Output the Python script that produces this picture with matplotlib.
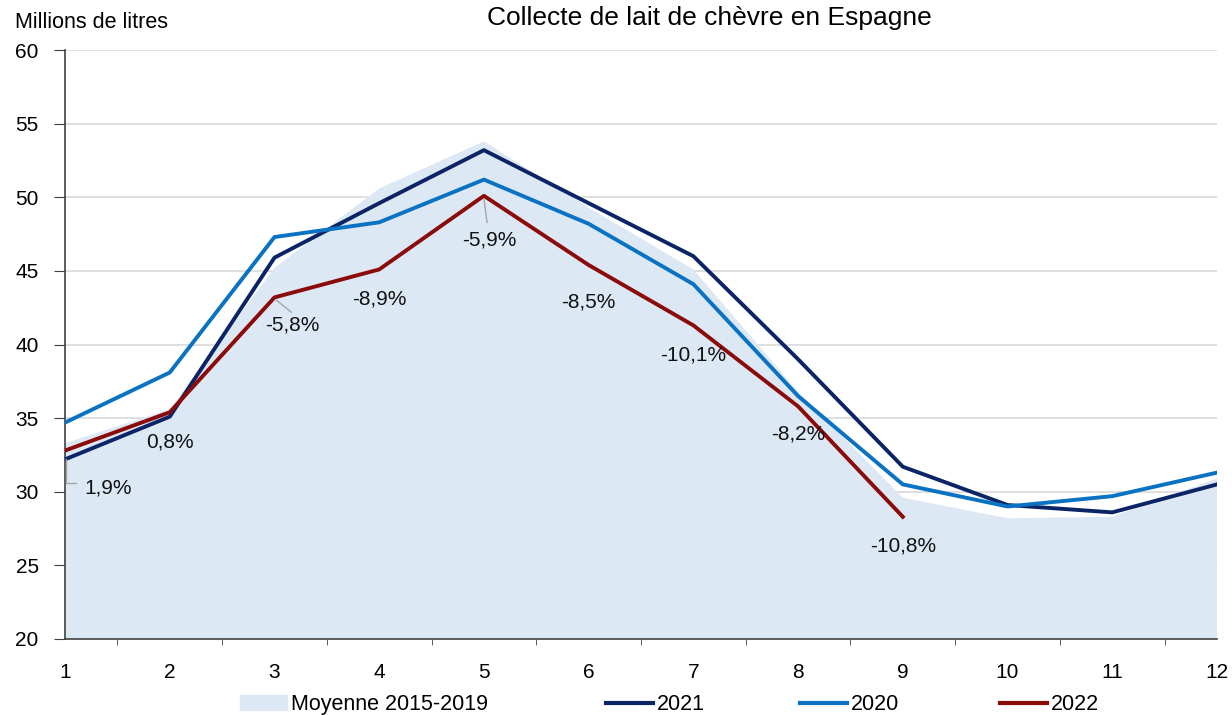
import numpy as np
import matplotlib
matplotlib.use("Agg")
import matplotlib.pyplot as plt
from matplotlib.patches import Patch
from matplotlib.lines import Line2D

plt.rcParams['font.family'] = ['Liberation Sans', 'DejaVu Sans']

# Données (millions de litres)
mois = np.arange(1, 13)
moyenne = [33.3, 35.6, 45.2, 50.6, 53.8, 49.3, 45.1, 36.8, 29.6, 28.2, 28.3, 30.9]
v2021 = [32.2, 35.1, 45.9, 49.6, 53.2, 49.6, 46.0, 39.0, 31.7, 29.1, 28.6, 30.5]
v2020 = [34.7, 38.1, 47.3, 48.3, 51.2, 48.2, 44.1, 36.5, 30.5, 29.0, 29.7, 31.3]
v2022 = [32.8, 35.4, 43.2, 45.1, 50.1, 45.4, 41.3, 35.8, 28.3]
etiquettes = ["1,9%", "0,8%", "-5,8%", "-8,9%", "-5,9%", "-8,5%", "-10,1%", "-8,2%", "-10,8%"]

fig = plt.figure(figsize=(12.32, 7.15), dpi=100)
ax = fig.add_axes([0.0528, 0.1063, 0.935, 0.8237])

ax.fill_between(mois, 0, moyenne, color='#DDE8F5', lw=0, zorder=1)
ax.plot(mois, v2021, color='#0B2466', lw=2.8, zorder=3)
ax.plot(mois, v2020, color='#0A72C2', lw=2.8, zorder=3)
ax.plot(mois[:len(v2022)], v2022, color='#8B0A0A', lw=2.8, zorder=4)

# étiquettes (position relative au point, en unités de données)
decal = [(0.41, -2.55), (0.0, -2.0), (0.17, -1.9), (0.0, -2.0), (0.05, -3.0),
         (0.0, -2.5), (0.0, -2.0), (0.0, -1.9), (0.0, -2.0)]
for i, (txt, (dx, dy)) in enumerate(zip(etiquettes, decal)):
    ax.text(mois[i] + dx, v2022[i] + dy, txt, ha='center', va='center',
            fontsize=15, color='#111111', zorder=6)

# lignes de rappel
ax.plot([1.005, 1.005, 1.105], [32.2, 30.6, 30.6], color='#A6A6A6', lw=1, zorder=5)
ax.plot([3.02, 3.16], [43.0, 42.2], color='#A6A6A6', lw=1, zorder=5)
ax.plot([5.0, 5.03], [49.9, 48.3], color='#A6A6A6', lw=1, zorder=5)

ax.set_xlim(1, 12)
ax.set_ylim(20, 60)
ax.set_yticks(np.arange(20, 61, 5))
ax.set_xticks(mois)
ax.set_xticks(np.arange(1.5, 12, 1), minor=True)
ax.yaxis.grid(True, color='#D9D9D9', lw=1.2)
ax.set_axisbelow(True)
for s in ['top', 'right']:
    ax.spines[s].set_visible(False)
for s in ['left', 'bottom']:
    ax.spines[s].set_color('#404040')
    ax.spines[s].set_linewidth(1.2)
ax.tick_params(axis='x', which='major', length=0, pad=17, labelsize=15)
ax.tick_params(axis='x', which='minor', length=4.5, color='#404040')
ax.tick_params(axis='y', length=8, color='#404040', pad=11, labelsize=15)

fig.text(0.012, 0.969, "Millions de litres", fontsize=15.5, ha='left', va='center')
fig.text(0.5755, 0.975, "Collecte de lait de chèvre en Espagne", fontsize=19,
         ha='center', va='center')

# légende : une entrée par bloc pour respecter l'espacement
handles = [Patch(color='#DDE8F5'),
           Line2D([], [], color='#0B2466', lw=3),
           Line2D([], [], color='#0A72C2', lw=3),
           Line2D([], [], color='#8B0A0A', lw=3)]
labels = ["Moyenne 2015-2019", "2021", "2020", "2022"]
x_leg = [240, 606, 800, 1000]
for h, lab, xp in zip(handles, labels, x_leg):
    fig.legend([h], [lab], loc='center left', bbox_to_anchor=(xp / 1232, 0.014),
               frameon=False, fontsize=15.5, handlelength=2.2, handletextpad=0.15,
               borderpad=0, borderaxespad=0)

fig.savefig("out.png", dpi=100)
